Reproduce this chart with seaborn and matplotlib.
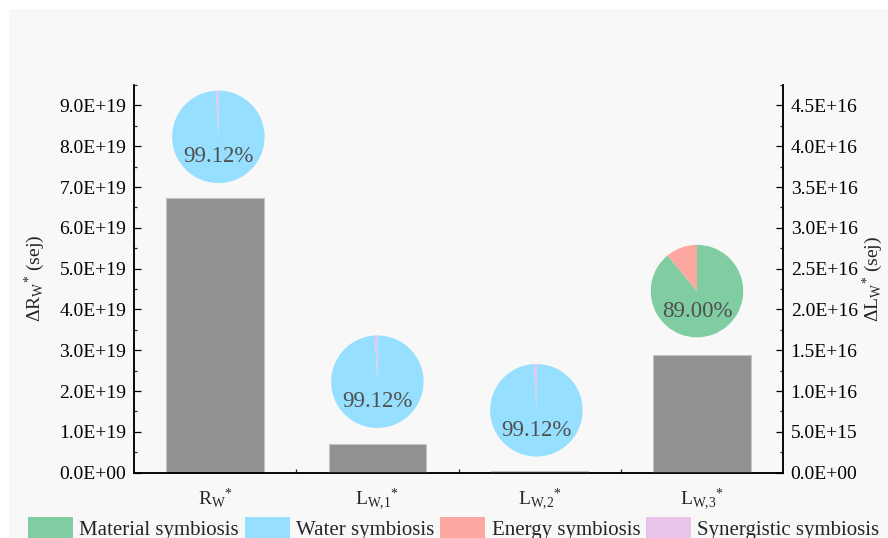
import matplotlib
matplotlib.use("Agg")
import matplotlib.pyplot as plt
from matplotlib.patches import Patch, Rectangle
from matplotlib.ticker import MultipleLocator, FuncFormatter, FixedLocator
import numpy as np
import pandas as pd
import seaborn as sns

# ---- data ----
categories = ["RW", "LW1", "LW2", "LW3"]
tick_labels = [
    r"$\mathrm{R}_{\mathrm{W}}{}^{*}$",
    r"$\mathrm{L}_{\mathrm{W{,}1}}{}^{*}$",
    r"$\mathrm{L}_{\mathrm{W{,}2}}{}^{*}$",
    r"$\mathrm{L}_{\mathrm{W{,}3}}{}^{*}$",
]
# ΔR_W* on the left axis, ΔL_W* on the right axis (sej)
r_categories = ["RW"]
r_values = [6.72e19]
l_categories = ["LW1", "LW2", "LW3"]
l_values = [3.47e15, 2.0e14, 1.44e16]

# share of each symbiosis type (%)
symbiosis_types = ["Material symbiosis", "Water symbiosis",
                   "Energy symbiosis", "Synergistic symbiosis"]
material_share = [0.0, 0.0, 0.0, 89.00]
water_share = [99.12, 99.12, 99.12, 0.0]
energy_share = [0.0, 0.0, 0.0, 11.00]
synergistic_share = [0.88, 0.88, 0.88, 0.0]

symbiosis_colors = ["#7fcda1", "#96dffe", "#fca8a1", "#e8c3ea"]

# ---- style ----
sns.set_theme(style="ticks")
plt.rcParams["font.family"] = ["Liberation Serif", "DejaVu Serif"]
plt.rcParams["mathtext.fontset"] = "custom"
plt.rcParams["mathtext.rm"] = "Liberation Serif"
plt.rcParams["mathtext.it"] = "Liberation Serif:italic"
plt.rcParams["axes.linewidth"] = 1.1

fig = plt.figure(figsize=(8.88, 5.38), dpi=100, facecolor="white")
fig.patches.append(Rectangle((9 / 888, 0), 1, (538 - 9) / 538,
                             transform=fig.transFigure, facecolor="#f8f8f8",
                             edgecolor="none", zorder=-10))

ax = fig.add_axes([134 / 888, (538 - 472.7) / 538,
                   (783 - 134) / 888, (472.7 - 85) / 538])
ax.set_facecolor("none")
ax2 = ax.twinx()
ax2.set_facecolor("none")

bar_kw = dict(order=categories, width=0.6, color="#919191", saturation=1,
              edgecolor="#c4c4c4", linewidth=0.8)
sns.barplot(x=r_categories, y=r_values, ax=ax, **bar_kw)
sns.barplot(x=l_categories, y=l_values, ax=ax2, **bar_kw)

ax.set_xlim(-0.5, 3.5)
ax.set_ylim(0, 9.5e19)
ax2.set_ylim(0, 4.75e16)


def sci(v, _pos):
    return f"{v:.1E}"


ax.yaxis.set_major_locator(MultipleLocator(1e19))
ax.yaxis.set_minor_locator(MultipleLocator(0.5e19))
ax.yaxis.set_major_formatter(FuncFormatter(sci))
ax2.yaxis.set_major_locator(MultipleLocator(5e15))
ax2.yaxis.set_minor_locator(MultipleLocator(2.5e15))
ax2.yaxis.set_major_formatter(FuncFormatter(sci))

for a in (ax, ax2):
    a.spines["top"].set_visible(False)
    for s in ("left", "right", "bottom"):
        a.spines[s].set_linewidth(1.1)
        a.spines[s].set_color("black")
    a.tick_params(axis="y", which="major", direction="in", length=5,
                  width=0.9, labelsize=14, pad=5.5, colors="black")
    a.tick_params(axis="y", which="minor", direction="in", length=2.5,
                  width=0.9)

ax.set_xticks(range(len(categories)))
ax.set_xticklabels(tick_labels)
ax.xaxis.set_minor_locator(FixedLocator([0.5, 1.5, 2.5]))
ax.tick_params(axis="x", which="major", length=0, labelsize=14, pad=10)
ax.tick_params(axis="x", which="minor", direction="in", length=3, width=0.9)
ax.set_xlabel("")
ax2.set_xlabel("")

ax.set_ylabel("Δ" + r"$\mathrm{R}_{\mathrm{W}}{}^{*}$" + " (sej)", fontsize=14)
ax2.set_ylabel("Δ" + r"$\mathrm{L}_{\mathrm{W}}{}^{*}$" + " (sej)", fontsize=14)
ax.yaxis.set_label_coords(-0.134, 0.5)
ax2.yaxis.set_label_coords(1.12, 0.5)

# ---- composition pies above the bars ----
pie_x = [0.02, 1.0, 1.98, 2.97]
pie_y = [8.23e19, 2.23e19, 1.53e19, 4.45e19]
pie_rx = 0.2854
pie_ry = 1.133e19

shares = np.array([material_share, water_share, energy_share, synergistic_share])
for i in range(len(categories)):
    vals = shares[:, i]
    keep = vals > 0
    pax = ax2.inset_axes([pie_x[i] - pie_rx, pie_y[i] - pie_ry,
                          2 * pie_rx, 2 * pie_ry], transform=ax.transData)
    pax.pie(vals[keep], colors=[c for c, k in zip(symbiosis_colors, keep) if k],
            startangle=90, counterclock=False,
            wedgeprops=dict(linewidth=0))
    pax.set_xlim(-1, 1)
    pax.set_ylim(-1, 1)
    pax.set_aspect("equal")
    pax.axis("off")
    pax.text(0, -0.55, f"{vals.max():.2f}%", ha="center", va="baseline",
             fontsize=16.5, color="#505050")

# ---- legend ----
handles = [Patch(facecolor=c, edgecolor="none") for c in symbiosis_colors]
fig.legend(handles, symbiosis_types, loc="upper left", ncol=4,
           bbox_to_anchor=(28 / 888, (538 - 517) / 538), frameon=False,
           fontsize=15, handlelength=2.15, handleheight=1.2,
           handletextpad=0.3, columnspacing=0.3, borderpad=0,
           borderaxespad=0)

fig.savefig("out.png", dpi=100, facecolor="white")
